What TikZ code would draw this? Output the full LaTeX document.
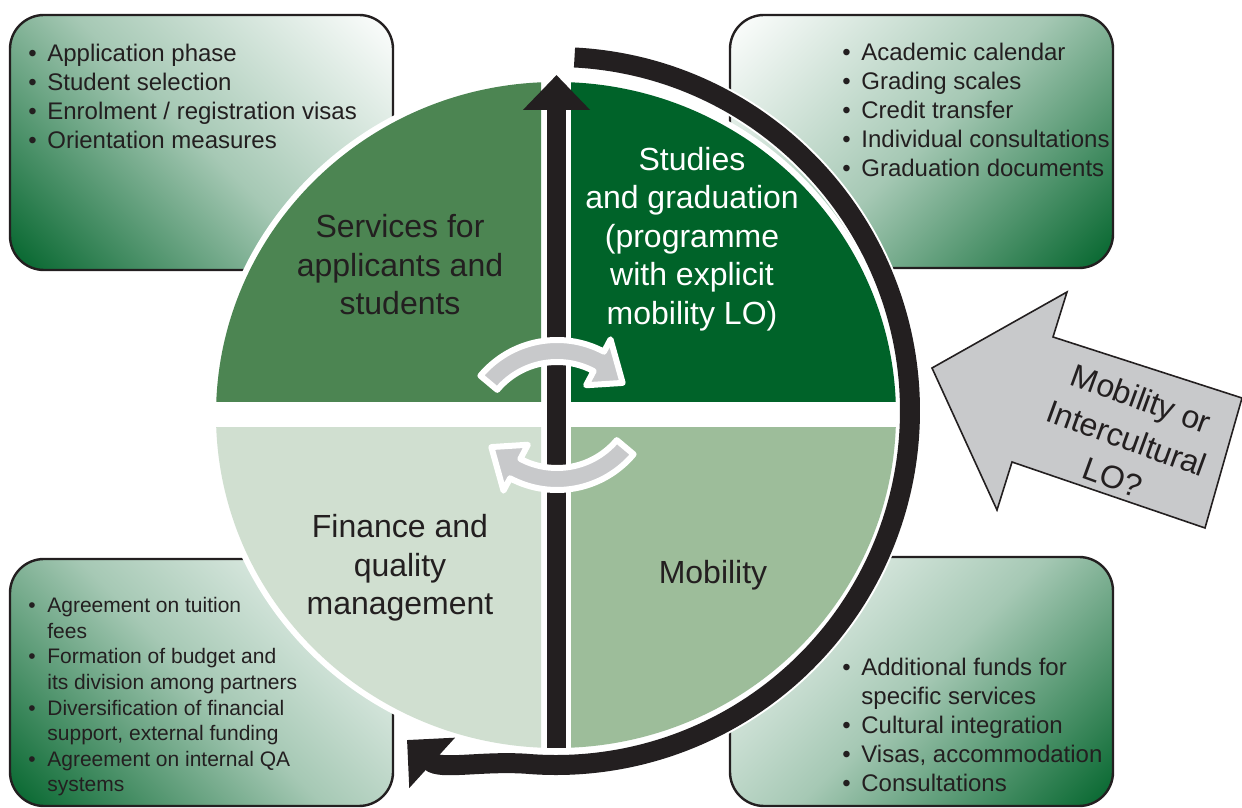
\documentclass[tikz,border=0pt]{standalone}
\usepackage{fontspec}
\setmainfont{Liberation Sans}
\usetikzlibrary{arrows.meta,calc}

\definecolor{inkblack}{HTML}{231F20}
\definecolor{boxgreen}{HTML}{00632A}
\definecolor{quadTL}{HTML}{4C8552}
\definecolor{quadTR}{HTML}{006329}
\definecolor{quadBL}{HTML}{D0DFD0}
\definecolor{quadBR}{HTML}{9DBD9A}
\definecolor{swapgrey}{HTML}{C8C9CB}

\newcommand{\bul}{\makebox[9.5pt][l]{\textbullet}}
\newcommand{\cont}{\hspace*{9.5pt}}

\tikzset{
  infobox/.style={draw=inkblack, line width=1.2pt, rounded corners=17pt},
  boxfade/.style={bottom color=boxgreen, top color=white, middle color=boxgreen!35},
  infotext/.style={inner sep=0pt, anchor=north west, align=left, text=inkblack,
    font=\fontsize{12}{14.5}\selectfont},
  quadtext/.style={align=center, text=inkblack, font=\fontsize{16}{19.25}\selectfont},
  swaparrow/.style={fill=swapgrey, draw=white, line width=3pt, line join=round},
  bigarrow/.style={fill=swapgrey, draw=inkblack, line width=0.8pt, line join=miter},
}

\begin{document}
\begin{tikzpicture}[x=0.5pt, y=0.5pt]
  \useasboundingbox (0,0) rectangle (1242,808);

  % the four boxes, dark corner away from the circle
  \foreach \xa/\ya/\xb/\yb/\turn in {10/538/393/793/-45, 730/540/1113/793/45,
                                     10/2/393/249/-45, 730/2/1113/251/45}{
    \coordinate (boxMid) at ($(\xa,\ya)!0.5!(\xb,\yb)$);
    \begin{scope}
      \clip[rounded corners=17pt] (\xa,\ya) rectangle (\xb,\yb);
      \shade[boxfade, transform canvas={rotate around={\turn:(boxMid)}}]
        ($(boxMid)+(-226,-226)$) rectangle ++(452,452);
    \end{scope}
    \draw[infobox] (\xa,\ya) rectangle (\xb,\yb);
  }

  % circle in four parts
  \coordinate (hub) at (556,393);
  \fill[white] (hub) ellipse [x radius=346, y radius=339];
  \begin{scope}
    \clip (0,406) rectangle (541,808);
    \fill[quadTL] (hub) ellipse [x radius=340, y radius=333];
  \end{scope}
  \begin{scope}
    \clip (571,406) rectangle (1242,808);
    \fill[quadTR] (hub) ellipse [x radius=340, y radius=333];
  \end{scope}
  \begin{scope}
    \clip (0,0) rectangle (541,380);
    \fill[quadBL] (hub) ellipse [x radius=340, y radius=333];
  \end{scope}
  \begin{scope}
    \clip (571,0) rectangle (1242,380);
    \fill[quadBR] (hub) ellipse [x radius=340, y radius=333];
  \end{scope}

  % black cycle arrow round the right side
  \coordinate (arcStart) at (574.5,750.5);
  \coordinate (arcEnd) at (407,68);
  \draw[white, line width=12pt] (arcStart) arc[start angle=87, end angle=-95, radius=354];
  \draw[inkblack, line width=10pt, -{Triangle[length=17pt,width=33pt]}]
    (arcStart) arc[start angle=87, end angle=-95, radius=354]
    .. controls (480,47) and (440,38) .. (arcEnd);

  % vertical arrow
  \coordinate (shaftFoot) at (556.5,60);
  \coordinate (shaftTip) at (556.5,733);
  \draw[inkblack, line width=9.5pt, -{Triangle[length=17.5pt,width=32.5pt]}] (shaftFoot) -- (shaftTip);

  % grey swap arrows
  \begin{scope}[shift={(557,368)}]
    \draw[swaparrow] (140:100) arc[start angle=140, end angle=62, radius=100]
      -- (62:114) -- (41:87) -- (62:62) -- (62:78)
      arc[start angle=62, end angle=140, radius=78] -- cycle;
  \end{scope}
  \begin{scope}[shift={(557,418)}]
    \draw[swaparrow] (-40:100) arc[start angle=-40, end angle=-118, radius=100]
      -- (-118:114) -- (-139:87) -- (-118:62) -- (-118:78)
      arc[start angle=-118, end angle=-40, radius=78] -- cycle;
  \end{scope}

  % big grey arrow
  \draw[bigarrow] (932,440) -- (1067,516) -- (1053,471) -- (1242,410)
    -- (1205,280) -- (1012,346) -- (997,298) -- cycle;
  \node[quadtext, rotate=-20, font=\fontsize{16}{21}\selectfont] (loQuestion) at (1127,370)
    {Mobility or\\Intercultural\\LO?};

  % labels of the four parts
  \node[quadtext] (servicesLbl) at (400,543) {Services for\\applicants and\\students};
  \node[quadtext, text=white] (studiesLbl) at (692,569)
    {Studies\\and graduation\\(programme\\with explicit\\mobility LO)};
  \node[quadtext] (financeLbl) at (400,240) {Finance and\\quality\\management};
  \node[quadtext] (mobilityLbl) at (713,233) {Mobility};

  % lists in the boxes
  \node[infotext] (servicesList) at (28,764)
    {\bul Application phase\\ \bul Student selection\\
     \bul Enrolment / registration visas\\ \bul Orientation measures};
  \node[infotext] (studiesList) at (842,765)
    {\bul Academic calendar\\ \bul Grading scales\\ \bul Credit transfer\\
     \bul Individual consultations\\ \bul Graduation documents};
  \node[infotext, font=\fontsize{10.5}{12.8}\selectfont] (financeList) at (28,211)
    {\bul Agreement on tuition\\ \cont fees\\
     \bul Formation of budget and\\ \cont its division among partners\\
     \bul Diversification of financial\\ \cont support, external funding\\
     \bul Agreement on internal QA\\ \cont systems};
  \node[infotext] (mobilityList) at (842,150)
    {\bul Additional funds for\\ \cont specific services\\
     \bul Cultural integration\\ \bul Visas, accommodation\\ \bul Consultations};
\end{tikzpicture}
\end{document}
